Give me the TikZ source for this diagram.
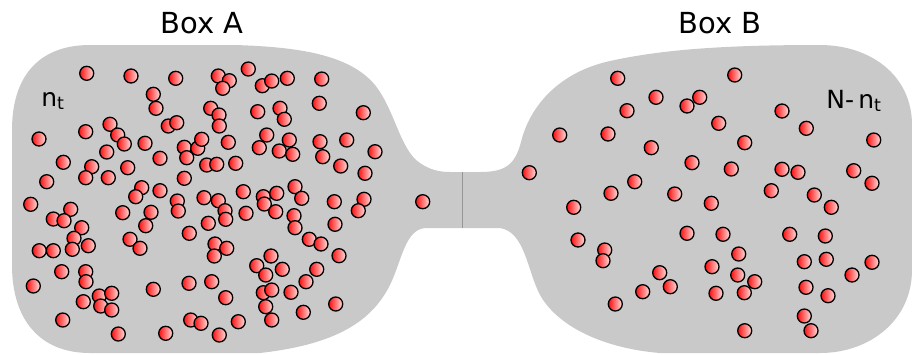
\documentclass[tikz,border=0pt]{standalone}
\usepackage{fontspec}
\setmainfont{DejaVu Sans}
\usepackage{xcolor}
\usepackage{tikz}
\usetikzlibrary{positioning, calc}
\definecolor{vesselgray}{RGB}{201,201,201}
\definecolor{seamgray}{RGB}{150,150,150}
\tikzset{
  vessel/.style={fill=vesselgray, draw=none},
  molecule/.style={
    draw=black, line width=1.3pt,
    left color=red!95!white, right color=red!12!white
  },
  boxtitle/.style={
    font=\fontsize{29}{32}\selectfont, inner sep=0pt
  },
  countlabel/.style={
    font=\fontsize{25}{28}\selectfont, inner sep=0pt
  },
}

\begin{document}
\begin{tikzpicture}[x=1pt, y=-1pt]
  \useasboundingbox (0,0) rectangle (912,354);

  % Vessel: two boxes joined by a narrow neck
  \path[vessel]
    (12,130) .. controls (12,75) and (40,45) .. (90,45)
    -- (235,45) .. controls (300,47) and (350,55) .. (375,85)
    .. controls (395,110) and (400,150) .. (420,163)
    .. controls (430,170) and (440,172) .. (450,172)
    -- (480,172) .. controls (505,172) and (515,165) .. (521,142)
    .. controls (530,105) and (560,72) .. (610,61)
    .. controls (660,50) and (720,45) .. (820,45)
    .. controls (870,45) and (912,75) .. (912,125)
    -- (912,270) .. controls (912,320) and (870,353) .. (820,353)
    -- (660,353) .. controls (610,349) and (560,330) .. (540,295)
    .. controls (527,270) and (525,232) .. (500,228)
    -- (425,228) .. controls (405,230) and (402,260) .. (390,285)
    .. controls (370,325) and (330,345) .. (260,353)
    -- (90,353) .. controls (40,353) and (12,320) .. (12,265)
    -- cycle;

  % Partition in the neck
  \coordinate (gatetop) at (462,172);
  \coordinate (gatebot) at (462,228);
  \draw[seamgray, line width=0.8pt] (gatetop) -- (gatebot);

  % Molecules in box A
  \foreach \x/\y in {
    86.7/73.3, 131/76, 175.7/78.3, 218.3/76, 229.3/80.7, 222.7/88.3,
    248.3/69, 262.3/85.7, 271.7/81, 287.3/78.3, 321.7/79,
    153.3/94.3, 156/108.3, 210.7/108.3, 219/115, 219.3/126,
    168.3/126, 176.7/122.7, 257.7/111.7, 280/108.3, 284.3/119.3,
    319.3/103.3, 363.3/112.7,
    85.7/131.7, 110/124.3, 117.7/135, 124.3/144, 39/139, 145/143.3,
    106.7/152, 184.3/147.3, 186.7/157.7, 197.7/148.3, 201.7/139.3,
    228.3/142.3, 266.7/135, 259.3/147.7, 279.3/151, 289.3/140,
    292.7/154.3, 320/141.7, 322.7/156.7, 346.7/140, 375/151.7,
    63.3/162.3, 91.7/166.7, 85.7/177.7, 108.3/177.7, 127.7/167.7,
    160/158.3, 206.7/165, 216.7/164.3, 235.7/163.3, 184.3/178.3,
    340.7/166, 365/173.3, 46.7/181.7,
    30.7/204.3, 70.7/209.3, 53.3/219, 64/220.7, 141.7/187.7,
    135.7/196.7, 160/190.7, 177.3/201, 178.3/211, 204/197.7,
    218.3/200.7, 225/210.7, 225.7/219.3, 208.3/223.3, 243.3/191.7,
    246/213.3, 263.3/196.7, 264.3/204, 276.7/193.3, 275.7/211.7,
    295/186.7, 301.7/198.3, 294/215.7, 295/227.7, 334.3/201.7,
    364/199.3, 358.3/210.7, 122.7/212.7, 151/212.3, 145.7/225.7,
    81.7/227.7,
    74/238.3, 88.3/245.7, 72.3/249.3, 39.3/250.7, 53.3/250.7,
    130/239.3, 140/248.3, 189.3/233.3, 215/244, 226.7/248.3,
    214.3/256, 335/224.3, 309.3/239.3, 321/244, 339/255.7,
    61.7/271.7, 85.7/271.7, 86/281.7, 33.3/286, 271/256,
    256.7/265.7, 265.7/275, 282.3/269.3, 316.7/269.3, 306/281.7,
    189/283.3, 211.7/281.7, 153.3/289.3,
    99.3/296, 111.7/293.3, 83.3/301.7, 100.7/306, 111.7/310,
    225.7/297.7, 263.3/292.7, 271.7/290, 291/292.3, 265.7/306.7,
    335.7/304, 303.3/312.3,
    62.7/320, 190.7/320, 201/323.3, 238.3/321.7, 271.7/320,
    118.3/334, 165.7/333.3, 219.3/335}
    \draw[molecule] (\x,\y) circle (7);

  % Molecule passing through the neck
  \draw[molecule] (422.7,201.7) circle (7);

  % Molecules in box B
  \foreach \x/\y in {
    617.7/78.3, 734.7/75, 656/97.3, 687/106, 699.7/97.3, 627/110.7,
    782/111, 718.7/123.3, 806.3/128.3, 559.7/135, 608/134,
    651.3/147.7, 744.7/142.7, 873.7/140,
    529.3/172.7, 692/162.7, 731.3/169, 782/169.3, 798/172.3,
    853.7/170.7, 872/183.3, 634.7/181.7, 611/193.3, 674.7/194,
    771.3/190.7, 814.3/195, 831.3/207.3, 711.3/203.3, 573.7/207.3,
    578/240, 687/233.3, 723/234.3, 789.7/234.3, 825.3/236,
    604.7/250, 603/260.7, 738.7/254, 712/266.7, 804.3/261.7,
    826.3/259.3, 872/262.3, 659.7/272.7, 737.7/275, 754.7/281.7,
    852/275, 642.7/291.7, 670.3/286.7, 716/293.3, 744.3/292.7,
    806/287.3, 828/295.7, 615.3/304, 744.7/330.7, 804.3/316,
    811/330.7}
    \draw[molecule] (\x,\y) circle (7);

  % Annotations
  \node[boxtitle] (titleA) at (202,23) {Box A};
  \node[boxtitle] (titleB) at (720,23) {Box B};
  \node[countlabel] (countA) at (53,101) {n\textsubscript{t}};
  \node[countlabel] (countB) at (854,101) {N-\,n\textsubscript{t}};
\end{tikzpicture}
\end{document}
